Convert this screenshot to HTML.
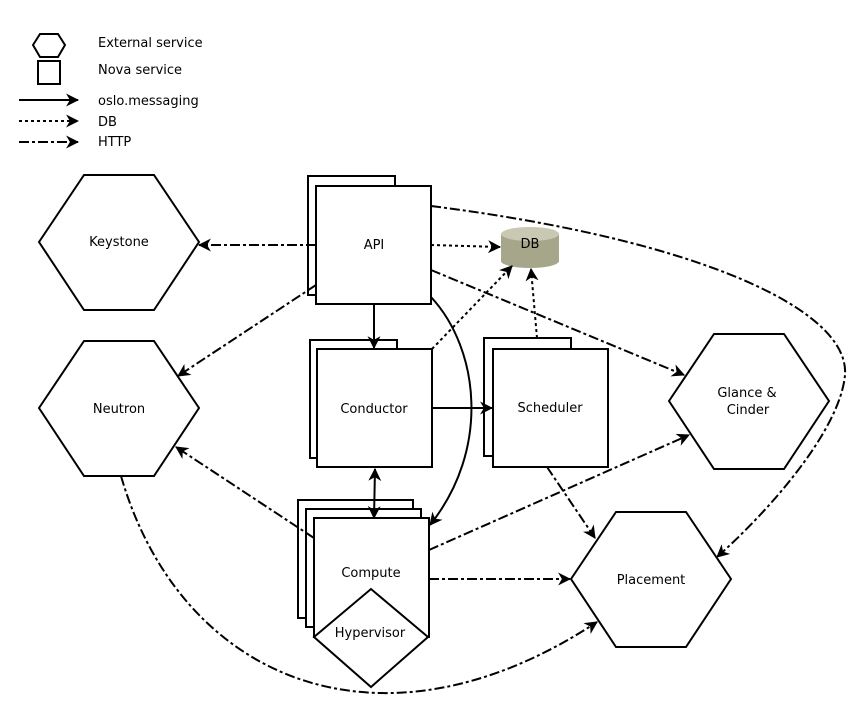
<!DOCTYPE html>
<html><head><meta charset="utf-8"><style>
html,body{margin:0;padding:0;background:#fff;}
svg{display:block;}
text{font-family:"DejaVu Sans","Liberation Sans",sans-serif;font-size:13px;fill:#000;}
</style></head><body>
<svg width="847" height="702" viewBox="0 0 847 702" xmlns="http://www.w3.org/2000/svg">
<defs>
<marker id="a" viewBox="0 0 12 12" refX="11" refY="6" markerWidth="13" markerHeight="13" orient="auto-start-reverse" markerUnits="userSpaceOnUse">
<path d="M0,0 L12,6 L0,12 L3.5,6 Z" fill="#000"/></marker>
</defs>
<g fill="none" stroke="#000" stroke-width="2">
<polygon points="33,45 40,34 58,34 65,45 58,57 40,57"/>
<rect x="38" y="61" width="22" height="23"/>
</g>
<g fill="none" stroke="#000" stroke-width="2">
<line x1="19" y1="100" x2="78" y2="100" marker-end="url(#a)"/>
<line x1="19" y1="121" x2="78" y2="121" stroke-dasharray="3,3" marker-end="url(#a)"/>
<line x1="19" y1="142" x2="78" y2="142" stroke-dasharray="10,3,3,3" marker-end="url(#a)"/>
</g>
<text x="98" y="47">External service</text>
<text x="98" y="74">Nova service</text>
<text x="98" y="105">oslo.messaging</text>
<text x="98" y="126">DB</text>
<text x="98" y="146">HTTP</text>

<g fill="#fff" stroke="#000" stroke-width="2">
<polygon points="39,242 84,175 154,175 199,242 154,310 84,310"/>
<polygon points="39,408 84,341 154,341 199,408 154,476 84,476"/>
<polygon points="669,401 714,334 784,334 829,401 784,469 714,469"/>
<polygon points="571,579 616,512 686,512 731,579 686,647 616,647"/>
<rect x="308" y="176" width="87" height="119"/>
<rect x="316" y="186" width="115" height="118"/>
<rect x="310" y="340" width="87" height="118"/>
<rect x="317" y="349" width="115" height="118"/>
<rect x="484" y="338" width="87" height="118"/>
<rect x="493" y="349" width="115" height="118"/>
<rect x="298" y="500" width="115" height="118"/>
<rect x="306" y="509" width="115" height="118"/>
<rect x="314" y="518" width="115" height="119"/>
<polygon points="314,637 371,589 428,637 371,687"/>
</g>
<path d="M501,234 L501,261 A29,7 0 0 0 559,261 L559,234 Z" fill="#a6a68a"/>
<ellipse cx="530" cy="234" rx="29" ry="7" fill="#c9c9b3"/>

<text x="119" y="246" text-anchor="middle">Keystone</text>
<text x="119" y="413" text-anchor="middle">Neutron</text>
<text x="747" y="397" text-anchor="middle">Glance &amp;</text>
<text x="748" y="414" text-anchor="middle">Cinder</text>
<text x="651" y="584" text-anchor="middle">Placement</text>
<text x="374" y="249" text-anchor="middle">API</text>
<text x="374" y="413" text-anchor="middle">Conductor</text>
<text x="550" y="412" text-anchor="middle">Scheduler</text>
<text x="371" y="577" text-anchor="middle">Compute</text>
<text x="370" y="637" text-anchor="middle">Hypervisor</text>
<text x="530" y="248" text-anchor="middle">DB</text>

<g fill="none" stroke="#000" stroke-width="2">
<line x1="374" y1="304" x2="374" y2="348" marker-end="url(#a)"/>
<line x1="432" y1="408" x2="492" y2="408" marker-end="url(#a)"/>
<line x1="375" y1="469" x2="374" y2="518" marker-start="url(#a)" marker-end="url(#a)"/>
<path d="M431,297 C480,350 490,450 430,525" marker-end="url(#a)"/>
</g>
<g fill="none" stroke="#000" stroke-width="2" stroke-dasharray="3,3">
<line x1="431" y1="245" x2="500" y2="247" marker-end="url(#a)"/>
<line x1="432" y1="349" x2="512" y2="266" marker-end="url(#a)"/>
<line x1="537" y1="338" x2="531" y2="269" marker-end="url(#a)"/>
</g>
<g fill="none" stroke="#000" stroke-width="2" stroke-dasharray="10,3,3,3">
<line x1="316" y1="245" x2="199" y2="245" marker-end="url(#a)"/>
<line x1="316" y1="285" x2="178" y2="376" marker-end="url(#a)"/>
<line x1="431" y1="270" x2="684" y2="375" marker-end="url(#a)"/>
<path d="M431,206 C700,240 850,310 845,375 C840,430 770,510 717,557" marker-end="url(#a)"/>
<line x1="547" y1="467" x2="595" y2="538" marker-end="url(#a)"/>
<line x1="314" y1="538" x2="176" y2="447" marker-end="url(#a)"/>
<line x1="429" y1="550" x2="689" y2="435" marker-end="url(#a)"/>
<line x1="429" y1="579" x2="570" y2="579" marker-end="url(#a)"/>
<path d="M121,476 C180,680 380,765 597,622" marker-end="url(#a)"/>
</g>
</svg>
</body></html>
